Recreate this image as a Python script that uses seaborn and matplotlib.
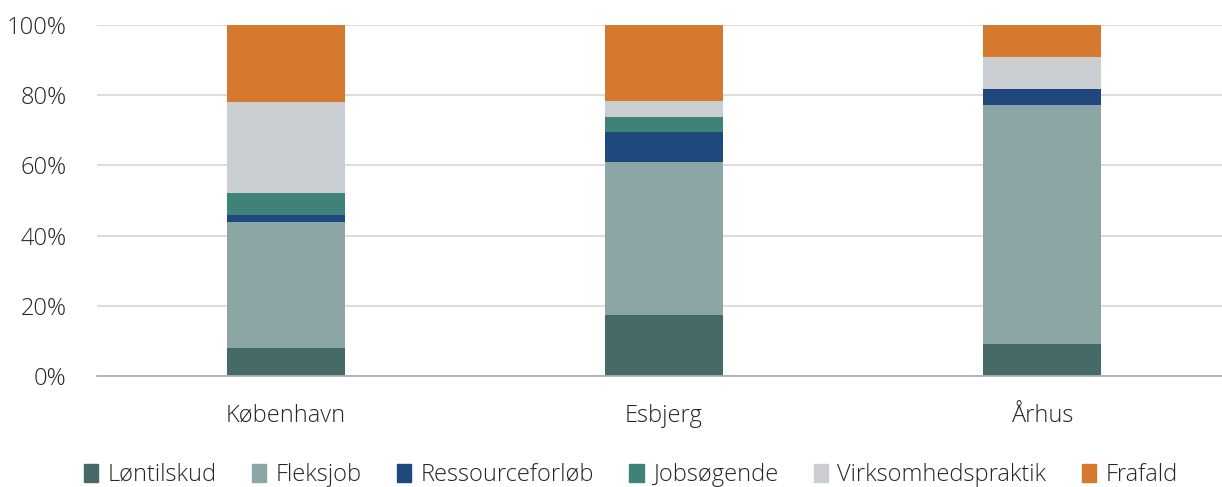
import numpy as np
import pandas as pd
import matplotlib
matplotlib.use("Agg")
import matplotlib.pyplot as plt
import seaborn as sns
from matplotlib.ticker import PercentFormatter
import matplotlib.patches as mpatches

# share of participants (%) per city and outcome
cities = ["København", "Esbjerg", "Århus"]
categories = ["Løntilskud", "Fleksjob", "Ressourceforløb", "Jobsøgende",
              "Virksomhedspraktik", "Frafald"]
loentilskud = [8.0, 17.4, 9.1]
fleksjob = [36.0, 43.5, 68.2]
ressourceforloeb = [2.0, 8.7, 4.5]
jobsoegende = [6.0, 4.3, 0.0]
virksomhedspraktik = [26.0, 4.4, 9.1]
frafald = [22.0, 21.7, 9.1]

colors = ["#456a67", "#8ba6a4", "#1f487c", "#3f8279", "#cbced1", "#d6792f"]

series = [loentilskud, fleksjob, ressourceforloeb, jobsoegende,
          virksomhedspraktik, frafald]
df = pd.DataFrame(
    {"by": np.repeat([cities], len(categories), axis=0).ravel(),
     "udfald": np.repeat(categories, len(cities)),
     "andel": np.concatenate(series)}
)

sns.set_style("white")
plt.rcParams["font.family"] = ["Open Sans", "DejaVu Sans"]
plt.rcParams["font.weight"] = "light"

fig = plt.figure(figsize=(12.22, 4.87), dpi=100)
ax = fig.add_axes([97 / 1222, 111 / 487, 1134 / 1222, 351 / 487])

bottom = np.zeros(len(cities))
for cat, col in zip(categories, colors):
    sub = df[df.udfald == cat].set_index("by").loc[cities].reset_index()
    sns.barplot(data=sub, x="by", y="andel", order=cities, color=col,
                width=0.31, bottom=bottom, ax=ax, saturation=1,
                edgecolor="none", linewidth=0, zorder=3)
    bottom = bottom + sub["andel"].to_numpy()

ax.set_ylim(0, 100)
ax.set_xlim(-0.5, 2.5)
ax.yaxis.set_major_formatter(PercentFormatter(decimals=0))
ax.set_yticks(np.arange(0, 101, 20))
ax.grid(axis="y", color="#d9d9d9", lw=1.3, zorder=0)
ax.set_xlabel("")
ax.set_ylabel("")
for s in ["top", "right", "left"]:
    ax.spines[s].set_visible(False)
ax.spines["bottom"].set_color("#b0b0b0")
ax.spines["bottom"].set_linewidth(1.3)
ax.spines["bottom"].set_zorder(4)
ax.tick_params(axis="both", length=0, labelsize=17, colors="#262626")
ax.tick_params(axis="y", pad=22)
ax.tick_params(axis="x", pad=20)

handles = [mpatches.Patch(color=c, label=l) for c, l in zip(colors, categories)]
fig.legend(handles=handles, loc="center", bbox_to_anchor=(0.516, 0.025),
           ncol=6, frameon=False, fontsize=17, handlelength=0.6,
           handleheight=0.8, handletextpad=0.4, columnspacing=1.5)

fig.savefig("out.png", dpi=100)
